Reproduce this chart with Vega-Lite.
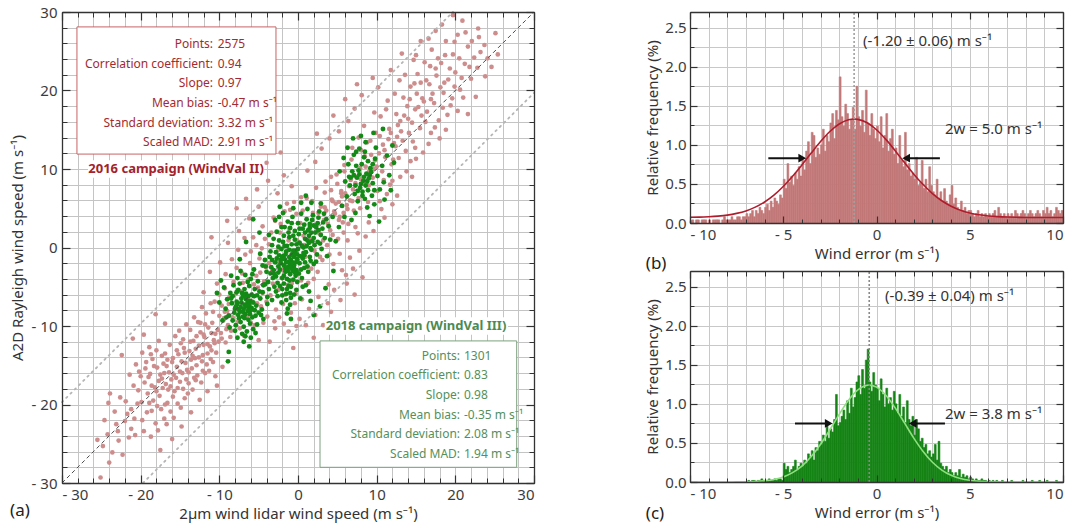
{
"$schema": "https://vega.github.io/schema/vega-lite/v6.json",
"background": "white",
"padding": {"left": 10, "top": 5, "right": 5, "bottom": 5},
"config": {
  "font": "Noto Sans",
  "view": {"stroke": null},
  "axis": {"labelFont": "Noto Sans", "labelFontSize": 15, "labelColor": "#3c3c3c", "titleFont": "Noto Sans", "titleFontSize": 15, "titleFontWeight": "normal", "titleColor": "#333333", "tickColor": "#333333", "domainColor": "#333333", "gridColor": "#c4c4c4", "gridWidth": 1},
  "title": {"font": "Noto Sans", "fontSize": 17, "fontWeight": "normal", "color": "#222222"}
},
"datasets": {
  "pink": [
{"x":-25.5,"y":-24.5},{"x":-24.8,"y":-25.3},{"x":-24.2,"y":-23.8},{"x":-23.6,"y":-26.1},{"x":-24.0,"y":-27.4},{"x":-25.1,"y":-29.3},{"x":-22.8,"y":-24.6},{"x":-23.1,"y":-22.5},{"x":-22.3,"y":-26.4},{"x":-21.7,"y":-21.2},{"x":-21.2,"y":-23.1},{"x":-21.9,"y":-19.6},{"x":-20.8,"y":-21.8},{"x":-22.6,"y":-19.1},{"x":-23.9,"y":-18.6},{"x":-21.5,"y":-24.2},{"x":-20.3,"y":-18.2},{"x":-19.6,"y":-23.4},{"x":-19.2,"y":-21.0},{"x":-18.7,"y":-24.1},{"x":-18.1,"y":-22.4},{"x":-17.5,"y":-25.8},{"x":-20.0,"y":-16.4},{"x":-22.4,"y":-13.7},{"x":-24.1,"y":-19.8},
{"x":-19.5,"y":-17.2},{"x":-19.1,"y":-18.6},{"x":-18.8,"y":-16.1},{"x":-18.4,"y":-19.5},{"x":-18.2,"y":-17.8},{"x":-17.9,"y":-15.3},{"x":-17.6,"y":-18.9},{"x":-17.3,"y":-16.7},{"x":-17.1,"y":-14.8},{"x":-16.8,"y":-17.4},{"x":-16.6,"y":-19.8},{"x":-16.4,"y":-15.9},{"x":-16.1,"y":-16.8},{"x":-15.9,"y":-14.1},{"x":-15.7,"y":-18.3},{"x":-15.4,"y":-15.2},{"x":-15.2,"y":-13.6},{"x":-15.0,"y":-17.1},{"x":-14.7,"y":-16.0},{"x":-14.5,"y":-12.8},{"x":-14.3,"y":-14.7},{"x":-14.0,"y":-18.6},{"x":-13.8,"y":-13.2},{"x":-13.5,"y":-15.4},{"x":-13.3,"y":-11.9},{"x":-13.1,"y":-14.1},{"x":-12.8,"y":-16.3},{"x":-12.6,"y":-12.5},{"x":-12.4,"y":-10.8},{"x":-12.1,"y":-13.7},{"x":-11.9,"y":-11.4},{"x":-11.6,"y":-14.9},{"x":-11.4,"y":-10.2},{"x":-11.2,"y":-12.6},{"x":-10.9,"y":-9.6},{"x":-10.7,"y":-11.8},{"x":-10.4,"y":-13.4},{"x":-10.2,"y":-10.5},{"x":-10.0,"y":-8.7},
{"x":-20.6,"y":-14.9},{"x":-20.2,"y":-15.8},{"x":-19.8,"y":-13.4},{"x":-19.3,"y":-14.6},{"x":-18.9,"y":-12.7},{"x":-18.5,"y":-14.2},{"x":-18.0,"y":-13.1},{"x":-17.7,"y":-11.9},{"x":-17.4,"y":-20.6},{"x":-17.0,"y":-21.8},{"x":-16.7,"y":-22.5},{"x":-16.2,"y":-20.9},{"x":-15.8,"y":-21.7},{"x":-15.3,"y":-19.9},{"x":-14.9,"y":-20.4},{"x":-14.4,"y":-19.2},{"x":-13.9,"y":-17.3},{"x":-13.4,"y":-18.1},{"x":-12.9,"y":-15.0},{"x":-12.3,"y":-17.2},{"x":-11.8,"y":-16.0},{"x":-11.3,"y":-15.7},{"x":-10.8,"y":-14.6},{"x":-10.5,"y":-16.4},
{"x":-16.9,"y":-13.5},{"x":-16.3,"y":-12.4},{"x":-15.6,"y":-11.3},{"x":-15.1,"y":-10.6},{"x":-14.6,"y":-11.7},{"x":-14.2,"y":-9.8},{"x":-13.7,"y":-10.5},{"x":-13.2,"y":-8.9},{"x":-12.7,"y":-9.5},{"x":-12.2,"y":-7.6},{"x":-11.7,"y":-8.4},{"x":-11.1,"y":-7.1},{"x":-10.6,"y":-6.9},{"x":-18.6,"y":-20.8},{"x":-19.9,"y":-19.7},{"x":-20.9,"y":-17.6},{"x":-21.4,"y":-16.2},{"x":-17.8,"y":-23.3},{"x":-16.0,"y":-24.4},{"x":-14.8,"y":-22.8},{"x":-13.6,"y":-21.0},{"x":-12.5,"y":-19.4},{"x":-11.5,"y":-18.3},{"x":-10.3,"y":-17.6},{"x":-9.6,"y":-15.2},{"x":-9.2,"y":-12.1},
{"x":-17.2,"y":-17.9},{"x":-16.5,"y":-18.1},{"x":-15.5,"y":-16.6},{"x":-15.0,"y":-15.8},{"x":-14.1,"y":-15.6},{"x":-13.0,"y":-12.9},{"x":-12.0,"y":-11.1},{"x":-11.0,"y":-10.9},{"x":-16.0,"y":-14.6},{"x":-17.5,"y":-16.2},{"x":-18.3,"y":-15.1},{"x":-14.4,"y":-13.4},{"x":-13.6,"y":-14.3},{"x":-12.2,"y":-14.5},{"x":-11.5,"y":-12.3},{"x":-10.6,"y":-12.2},{"x":-9.8,"y":-10.9},{"x":-9.5,"y":-9.3},{"x":-9.1,"y":-10.4},{"x":-8.8,"y":-8.6},{"x":-18.1,"y":-8.5},{"x":-19.6,"y":-11.1},{"x":-21.0,"y":-11.6},{"x":-16.9,"y":-9.7},
{"x":-19.0,"y":-16.5},{"x":-18.6,"y":-17.6},{"x":-18.0,"y":-18.3},{"x":-17.7,"y":-17.0},{"x":-17.0,"y":-16.0},{"x":-16.7,"y":-15.1},{"x":-16.2,"y":-17.7},{"x":-15.8,"y":-16.2},{"x":-15.3,"y":-17.9},{"x":-14.8,"y":-14.5},{"x":-14.2,"y":-16.8},{"x":-13.9,"y":-15.9},{"x":-13.4,"y":-13.8},{"x":-13.0,"y":-16.9},{"x":-12.6,"y":-14.0},{"x":-12.0,"y":-12.4},{"x":-11.5,"y":-13.5},{"x":-11.0,"y":-13.1},{"x":-10.5,"y":-11.0},{"x":-10.1,"y":-12.0},{"x":-9.7,"y":-11.6},{"x":-9.3,"y":-8.2},{"x":-8.9,"y":-9.9},{"x":-8.6,"y":-11.4},{"x":-19.4,"y":-15.4},{"x":-18.7,"y":-13.6},{"x":-17.3,"y":-13.8},{"x":-16.6,"y":-14.3},{"x":-15.4,"y":-13.1},{"x":-14.9,"y":-12.2},{"x":-13.7,"y":-12.0},{"x":-12.9,"y":-11.3},{"x":-12.4,"y":-9.6},{"x":-11.8,"y":-9.8},{"x":-20.4,"y":-19.9},{"x":-21.2,"y":-20.6},{"x":-22.0,"y":-22.1},{"x":-22.9,"y":-23.4},{"x":-20.7,"y":-23.9},{"x":-19.8,"y":-22.0},{"x":-18.9,"y":-19.8},{"x":-17.9,"y":-20.2},{"x":-16.9,"y":-20.0},{"x":-15.9,"y":-19.0},{"x":-14.6,"y":-18.0},{"x":-13.2,"y":-16.6},{"x":-12.1,"y":-15.7},{"x":-11.1,"y":-14.2},{"x":-23.3,"y":-20.9},{"x":-24.6,"y":-22.0},
{"x":-9.7,"y":-7.4},{"x":-9.3,"y":-5.2},{"x":-9.0,"y":-8.1},{"x":-8.7,"y":-6.3},{"x":-8.5,"y":-10.6},{"x":-8.2,"y":-4.4},{"x":-8.0,"y":-7.9},{"x":-7.8,"y":-2.6},{"x":-7.6,"y":-9.4},{"x":-7.3,"y":-5.6},{"x":-7.1,"y":-3.3},{"x":-6.9,"y":-11.2},{"x":-6.7,"y":-0.9},{"x":-6.5,"y":-8.7},{"x":-6.3,"y":-4.1},{"x":-6.1,"y":-2.0},{"x":-5.9,"y":-6.8},{"x":-5.7,"y":1.3},{"x":-5.5,"y":-9.9},{"x":-5.3,"y":-3.6},{"x":-5.1,"y":-5.1},{"x":-4.9,"y":-1.4},{"x":-4.7,"y":-7.5},{"x":-4.5,"y":2.7},{"x":-4.3,"y":-4.3},{"x":-4.1,"y":-2.5},{"x":-3.9,"y":-8.8},{"x":-3.7,"y":0.4},{"x":-3.5,"y":-6.1},{"x":-3.3,"y":-3.0},{"x":-3.1,"y":3.8},{"x":-2.9,"y":-10.3},{"x":-2.7,"y":-1.8},{"x":-2.5,"y":-5.4},{"x":-2.3,"y":1.9},{"x":-2.1,"y":-3.9},{"x":-1.9,"y":-7.2},{"x":-1.7,"y":4.6},{"x":-1.5,"y":-0.7},{"x":-1.3,"y":-4.8},{"x":-1.1,"y":2.4},{"x":-0.9,"y":-8.3},{"x":-0.7,"y":-2.2},{"x":-0.5,"y":5.8},{"x":-0.3,"y":-5.9},{"x":-0.1,"y":0.9},{"x":0.1,"y":-3.4},{"x":0.3,"y":3.1},{"x":0.5,"y":-6.6},{"x":0.7,"y":1.5},{"x":0.9,"y":-1.2},{"x":1.1,"y":6.3},{"x":1.3,"y":-4.5},{"x":1.5,"y":2.8},{"x":1.7,"y":-2.7},{"x":1.9,"y":4.4},{"x":2.1,"y":-0.4},{"x":2.3,"y":7.6},{"x":2.5,"y":-3.1},{"x":2.7,"y":1.8},{"x":2.9,"y":5.2},{"x":3.1,"y":-1.6},{"x":3.3,"y":3.5},{"x":3.5,"y":8.4},{"x":3.7,"y":0.3},{"x":3.9,"y":-4.7},{"x":4.1,"y":2.2},{"x":4.3,"y":6.1},{"x":4.5,"y":-2.1},{"x":4.7,"y":4.3},{"x":4.9,"y":9.3},{"x":5.1,"y":1.1},{"x":5.3,"y":-0.8},{"x":5.5,"y":6.9},{"x":5.7,"y":3.2},{"x":5.9,"y":10.5},{"x":6.1,"y":-3.5},{"x":6.3,"y":4.9},{"x":-10.3,"y":-4.6},{"x":-9.9,"y":-1.9},{"x":-11.2,"y":-3.1},{"x":-8.9,"y":0.6},{"x":-7.5,"y":2.1},{"x":-6.2,"y":3.7},{"x":-5.0,"y":5.2},{"x":-10.8,"y":-8.2},{"x":-12.0,"y":-5.7},
{"x":-4.4,"y":-9.6},{"x":-3.6,"y":-12.0},{"x":-2.4,"y":-8.9},{"x":-1.2,"y":-10.7},{"x":0.2,"y":-9.1},{"x":1.4,"y":-7.8},{"x":2.6,"y":-6.3},{"x":3.8,"y":-7.1},{"x":4.6,"y":-5.4},{"x":5.6,"y":-2.9},{"x":6.6,"y":-1.3},{"x":7.2,"y":-6.0},{"x":7.8,"y":-0.4},{"x":2.0,"y":-11.5},{"x":-0.6,"y":-12.8},{"x":5.0,"y":-9.4},
{"x":-9.4,"y":-9.0},{"x":-8.8,"y":-7.2},{"x":-8.3,"y":-8.9},{"x":-7.9,"y":-5.9},{"x":-7.4,"y":-10.3},{"x":-7.0,"y":-4.5},{"x":-6.4,"y":-6.4},{"x":-6.0,"y":-9.6},{"x":-5.6,"y":-4.7},{"x":-5.2,"y":-7.1},{"x":-4.8,"y":-3.2},{"x":-4.5,"y":-5.8},{"x":-4.0,"y":-6.9},{"x":-3.7,"y":-2.0},{"x":-3.2,"y":-4.6},{"x":-2.8,"y":-7.9},{"x":-2.5,"y":-0.3},{"x":-2.0,"y":-2.9},{"x":-1.6,"y":-6.0},{"x":-1.2,"y":0.9},{"x":-0.8,"y":-4.6},{"x":-0.4,"y":-7.1},{"x":0.0,"y":-1.8},{"x":0.4,"y":-4.2},{"x":0.8,"y":0.3},{"x":1.2,"y":-2.5},{"x":1.6,"y":1.0},{"x":2.0,"y":-4.0},{"x":2.4,"y":2.9},{"x":2.8,"y":-1.2},{"x":3.2,"y":0.9},{"x":3.6,"y":4.7},{"x":4.0,"y":-0.9},{"x":4.4,"y":1.6},{"x":4.8,"y":5.6},{"x":5.2,"y":3.5},{"x":5.8,"y":1.9},{"x":6.4,"y":3.0},{"x":6.9,"y":5.9},{"x":7.3,"y":2.6},{"x":-10.0,"y":-6.0},{"x":-9.2,"y":-3.4},{"x":-8.4,"y":-1.5},{"x":-7.6,"y":-0.3},{"x":-6.8,"y":1.2},{"x":-6.0,"y":-0.5},{"x":-5.3,"y":0.3},{"x":-4.6,"y":-0.1},{"x":-4.2,"y":1.1},{"x":-3.4,"y":1.9},{"x":-2.2,"y":3.0},{"x":-1.4,"y":5.6},{"x":-0.2,"y":4.3},{"x":0.6,"y":4.7},{"x":1.8,"y":5.9},{"x":2.6,"y":4.4},{"x":3.4,"y":7.0},{"x":4.2,"y":9.0},{"x":-3.0,"y":-9.4},{"x":-1.8,"y":-9.7},{"x":-0.2,"y":-10.0},{"x":1.0,"y":-9.9},{"x":2.2,"y":-8.6},{"x":3.2,"y":-9.9},{"x":4.2,"y":-8.2},{"x":5.4,"y":-6.7},{"x":6.2,"y":-4.6},{"x":7.0,"y":-2.7},{"x":8.2,"y":-3.8},{"x":-5.0,"y":-11.8},
{"x":-6.6,"y":6.2},{"x":-5.2,"y":7.4},{"x":-3.8,"y":8.5},{"x":-2.6,"y":6.9},{"x":-1.8,"y":9.2},{"x":-0.8,"y":7.8},{"x":-4.0,"y":10.8},{"x":-2.2,"y":12.1},{"x":-7.8,"y":5.0},{"x":-9.0,"y":3.4},{"x":-11.0,"y":1.3},
{"x":-2.9,"y":3.4},{"x":-1.0,"y":4.8},{"x":0.4,"y":6.4},{"x":1.2,"y":9.8},{"x":2.2,"y":10.9},{"x":3.0,"y":12.6},{"x":4.0,"y":13.9},{"x":5.2,"y":14.8},{"x":6.4,"y":16.1},{"x":7.2,"y":17.7},{"x":8.1,"y":19.4},{"x":6.0,"y":18.9},{"x":4.5,"y":16.8},{"x":2.4,"y":14.5},{"x":9.5,"y":21.6},{"x":7.5,"y":20.8},
{"x":3.4,"y":5.1},{"x":3.8,"y":3.0},{"x":4.2,"y":7.3},{"x":4.6,"y":4.6},{"x":5.0,"y":8.1},{"x":5.3,"y":3.9},{"x":5.6,"y":6.5},{"x":5.9,"y":9.7},{"x":6.2,"y":5.4},{"x":6.5,"y":7.8},{"x":6.8,"y":11.2},{"x":7.1,"y":4.7},{"x":7.4,"y":9.0},{"x":7.7,"y":6.3},{"x":8.0,"y":12.4},{"x":8.3,"y":8.1},{"x":8.6,"y":10.3},{"x":8.9,"y":5.8},{"x":9.2,"y":13.6},{"x":9.5,"y":8.9},{"x":9.8,"y":11.1},{"x":10.1,"y":7.2},{"x":10.4,"y":14.2},{"x":10.7,"y":9.7},{"x":11.0,"y":12.4},{"x":11.3,"y":6.8},{"x":11.6,"y":15.1},{"x":11.9,"y":10.6},{"x":12.2,"y":13.3},{"x":12.5,"y":17.0},{"x":12.8,"y":11.4},{"x":13.1,"y":14.8},{"x":13.4,"y":19.1},{"x":13.7,"y":12.3},{"x":14.0,"y":16.4},{"x":14.3,"y":20.5},{"x":14.6,"y":13.5},{"x":14.9,"y":17.6},{"x":15.2,"y":22.1},{"x":15.5,"y":15.2},{"x":15.8,"y":19.0},{"x":16.1,"y":23.6},{"x":16.4,"y":17.3},{"x":16.7,"y":20.8},{"x":17.0,"y":25.2},{"x":17.3,"y":18.4},{"x":17.6,"y":21.9},{"x":17.9,"y":16.2},{"x":18.2,"y":23.5},{"x":18.5,"y":19.7},{"x":18.8,"y":26.3},{"x":19.1,"y":21.4},{"x":19.4,"y":18.1},{"x":19.7,"y":24.6},{"x":20.0,"y":22.3},{"x":20.3,"y":27.1},{"x":20.6,"y":20.1},{"x":20.9,"y":28.9},{"x":21.2,"y":23.4},{"x":21.6,"y":25.6},{"x":22.0,"y":21.5},{"x":22.4,"y":24.2},{"x":22.8,"y":22.9},{"x":23.2,"y":24.9},{"x":23.7,"y":25.8},{"x":24.1,"y":24.1},{"x":19.7,"y":29.6},{"x":17.5,"y":27.6},{"x":15.6,"y":26.3},{"x":13.2,"y":24.7},{"x":11.8,"y":22.6},{"x":10.2,"y":20.4},{"x":12.0,"y":8.5},{"x":13.8,"y":9.7},{"x":15.0,"y":11.3},{"x":16.6,"y":13.2},{"x":18.0,"y":13.9},{"x":9.0,"y":3.2},{"x":10.6,"y":4.9},{"x":7.6,"y":1.8},{"x":6.3,"y":0.9},{"x":11.4,"y":18.7},{"x":9.7,"y":17.2},{"x":8.4,"y":15.5},{"x":12.9,"y":21.3},{"x":14.7,"y":23.9},{"x":16.2,"y":16.0},{"x":14.1,"y":14.6},{"x":12.4,"y":12.9},{"x":11.1,"y":11.5},{"x":10.0,"y":10.3},{"x":9.0,"y":9.6},{"x":8.0,"y":8.7},{"x":7.0,"y":7.4},{"x":6.0,"y":6.9},{"x":5.2,"y":5.8},{"x":13.0,"y":16.1},{"x":15.3,"y":17.9},{"x":17.1,"y":19.6},{"x":18.6,"y":21.0},{"x":19.9,"y":20.5},{"x":10.8,"y":13.1},{"x":9.3,"y":11.8},{"x":7.9,"y":10.1},{"x":6.7,"y":8.6},{"x":5.5,"y":7.2},{"x":4.4,"y":5.9},{"x":21.0,"y":19.1},{"x":19.0,"y":16.9},{"x":16.9,"y":14.6},{"x":14.9,"y":12.7},{"x":12.0,"y":5.5},{"x":8.6,"y":1.4},{"x":14.5,"y":9.0},
{"x":5.8,"y":4.4},{"x":6.6,"y":6.0},{"x":7.3,"y":8.2},{"x":7.9,"y":5.0},{"x":8.5,"y":11.6},{"x":9.0,"y":7.9},{"x":9.6,"y":10.0},{"x":10.3,"y":12.0},{"x":10.9,"y":8.6},{"x":11.5,"y":13.8},{"x":12.1,"y":11.2},{"x":12.7,"y":15.6},{"x":13.3,"y":13.6},{"x":13.9,"y":18.0},{"x":14.5,"y":15.9},{"x":15.1,"y":19.6},{"x":15.7,"y":16.8},{"x":16.3,"y":21.3},{"x":16.9,"y":18.9},{"x":17.5,"y":22.8},{"x":18.1,"y":20.4},{"x":18.7,"y":24.5},{"x":19.3,"y":22.8},{"x":19.9,"y":26.2},{"x":20.5,"y":24.1},{"x":21.3,"y":27.4},{"x":22.1,"y":26.3},{"x":22.9,"y":27.9},{"x":11.8,"y":14.6},{"x":12.6,"y":14.1},{"x":13.5,"y":16.8},{"x":14.2,"y":18.9},{"x":14.8,"y":20.9},{"x":15.6,"y":21.0},{"x":16.0,"y":18.6},{"x":16.8,"y":23.1},{"x":17.8,"y":24.1},{"x":18.4,"y":17.8},{"x":19.6,"y":19.0},{"x":20.8,"y":21.6},{"x":21.8,"y":23.0},{"x":10.5,"y":16.7},{"x":9.9,"y":14.6},{"x":11.2,"y":17.6},{"x":12.3,"y":19.6},{"x":8.8,"y":13.4},{"x":7.7,"y":14.0},{"x":6.9,"y":12.7},{"x":13.6,"y":22.0},{"x":15.0,"y":24.5},{"x":16.6,"y":26.6},{"x":18.3,"y":28.4},{"x":10.4,"y":5.9},{"x":11.7,"y":8.0},{"x":13.0,"y":9.0},{"x":14.3,"y":11.0},{"x":15.9,"y":12.1},{"x":17.4,"y":15.3},{"x":18.8,"y":15.0},{"x":20.3,"y":17.4},{"x":12.6,"y":6.6},{"x":9.6,"y":2.1},{"x":11.0,"y":3.8},{"x":22.6,"y":19.2},{"x":21.6,"y":17.0},{"x":23.8,"y":21.8},{"x":24.6,"y":23.0},{"x":25.4,"y":24.6},{"x":23.0,"y":26.8},{"x":25.1,"y":27.3}
  ],
  "green": [
{"x":-6.8,"y":-7.3},{"x":-7.2,"y":-6.5},{"x":-6.4,"y":-8.1},{"x":-7.5,"y":-7.9},{"x":-6.1,"y":-6.8},{"x":-7.0,"y":-8.8},{"x":-6.6,"y":-5.9},{"x":-7.8,"y":-6.9},{"x":-5.9,"y":-7.7},{"x":-7.3,"y":-9.5},{"x":-6.3,"y":-9.2},{"x":-8.1,"y":-8.3},{"x":-5.6,"y":-6.2},{"x":-7.6,"y":-5.4},{"x":-6.9,"y":-10.1},{"x":-5.8,"y":-8.9},{"x":-8.4,"y":-7.1},{"x":-6.2,"y":-4.9},{"x":-7.9,"y":-9.9},{"x":-5.3,"y":-7.4},{"x":-8.6,"y":-5.8},{"x":-6.5,"y":-10.7},{"x":-5.5,"y":-5.3},{"x":-7.4,"y":-4.6},{"x":-8.8,"y":-8.7},{"x":-5.0,"y":-8.3},{"x":-7.1,"y":-11.0},{"x":-6.0,"y":-4.0},{"x":-8.2,"y":-4.8},{"x":-4.8,"y":-6.5},{"x":-9.0,"y":-6.6},{"x":-6.7,"y":-3.5},{"x":-5.2,"y":-9.8},{"x":-8.0,"y":-10.6},{"x":-4.6,"y":-7.9},{"x":-7.7,"y":-3.9},{"x":-9.2,"y":-7.8},{"x":-5.7,"y":-10.4},{"x":-6.9,"y":-6.2},{"x":-7.3,"y":-7.6},{"x":-6.4,"y":-7.0},{"x":-7.0,"y":-8.2},{"x":-6.1,"y":-8.5},{"x":-7.6,"y":-8.6},{"x":-6.6,"y":-6.6},{"x":-5.9,"y":-6.0},{"x":-7.9,"y":-7.5},{"x":-6.3,"y":-7.6},{"x":-7.1,"y":-5.8},{"x":-6.8,"y":-9.0},{"x":-5.4,"y":-8.7},{"x":-8.3,"y":-6.2},{"x":-4.9,"y":-5.6},{"x":-6.0,"y":-11.5},{"x":-8.7,"y":-10.2},{"x":-9.4,"y":-5.1},{"x":-4.4,"y":-9.1},{"x":-5.1,"y":-4.3},{"x":-8.5,"y":-3.6},{"x":-9.6,"y":-9.3},{"x":-8.8,"y":-13.3},{"x":-8.9,"y":-14.5},{"x":-6.9,"y":-12.0},{"x":-10.0,"y":-7.0},{"x":-4.2,"y":-4.7},{"x":-3.9,"y":-7.2},{"x":-9.8,"y":-4.2},{"x":-10.3,"y":-5.8},
{"x":-6.9,"y":-7.8},{"x":-6.5,"y":-7.5},{"x":-7.2,"y":-7.0},{"x":-6.2,"y":-7.3},{"x":-7.7,"y":-7.2},{"x":-6.7,"y":-8.5},{"x":-7.4,"y":-8.2},{"x":-6.0,"y":-8.0},{"x":-7.0,"y":-6.0},{"x":-6.3,"y":-6.2},{"x":-5.7,"y":-7.0},{"x":-8.0,"y":-7.8},{"x":-6.8,"y":-5.3},{"x":-7.5,"y":-9.0},{"x":-6.1,"y":-9.7},{"x":-5.5,"y":-8.0},{"x":-8.3,"y":-9.3},{"x":-7.8,"y":-5.7},{"x":-5.2,"y":-6.1},{"x":-6.4,"y":-4.4},{"x":-7.3,"y":-3.0},{"x":-5.8,"y":-3.4},{"x":-6.7,"y":-11.3},{"x":-8.5,"y":-6.5},{"x":-5.4,"y":-10.9},{"x":-9.1,"y":-8.9},{"x":-4.7,"y":-8.6},{"x":-7.7,"y":-11.5},{"x":-6.2,"y":-12.6},{"x":-4.5,"y":-5.7},
{"x":-1.2,"y":-1.8},{"x":-0.8,"y":-0.9},{"x":-1.6,"y":-2.7},{"x":-0.5,"y":-2.3},{"x":-1.9,"y":-1.1},{"x":-1.0,"y":-3.4},{"x":-0.3,"y":-0.4},{"x":-2.2,"y":-2.0},{"x":-1.4,"y":0.2},{"x":-0.6,"y":-4.1},{"x":-2.5,"y":-3.2},{"x":-0.1,"y":-1.5},{"x":-1.8,"y":-4.6},{"x":-2.8,"y":-0.6},{"x":0.2,"y":0.6},{"x":-1.1,"y":1.3},{"x":-2.0,"y":-5.3},{"x":0.4,"y":-2.8},{"x":-2.9,"y":-1.9},{"x":-0.4,"y":2.1},{"x":-1.5,"y":-5.9},{"x":0.7,"y":-0.7},{"x":-3.2,"y":-3.9},{"x":-0.9,"y":-6.4},{"x":0.1,"y":1.7},{"x":-2.4,"y":0.9},{"x":0.9,"y":-1.9},{"x":-3.0,"y":-5.0},{"x":-1.7,"y":2.6},{"x":0.5,"y":-3.9},{"x":-3.4,"y":-2.5},{"x":-0.2,"y":-5.4},{"x":1.1,"y":0.2},{"x":-2.6,"y":-6.2},{"x":-1.3,"y":3.3},{"x":-3.6,"y":-1.2},{"x":1.3,"y":-3.1},{"x":-0.7,"y":3.9},{"x":-2.1,"y":-7.0},{"x":0.8,"y":2.9},{"x":-3.8,"y":-4.4},{"x":-1.0,"y":-7.3},{"x":1.5,"y":-1.2},{"x":-2.7,"y":2.0},{"x":0.3,"y":-6.5},{"x":-3.3,"y":0.3},{"x":1.0,"y":-4.8},{"x":-1.9,"y":4.4},{"x":-0.5,"y":-1.2},{"x":-1.3,"y":-2.5},{"x":-0.9,"y":-1.6},{"x":-1.7,"y":-1.5},{"x":-0.2,"y":-2.9},{"x":-1.5,"y":-0.5},{"x":-0.7,"y":-3.0},{"x":-2.3,"y":-2.8},{"x":-1.1,"y":-0.3},{"x":-1.8,"y":-3.6},{"x":-0.4,"y":-0.8},{"x":-2.0,"y":-1.3},{"x":-0.6,"y":-2.1},{"x":-1.4,"y":-4.0},{"x":-1.0,"y":-2.2},{"x":-1.6,"y":-3.1},{"x":-0.3,"y":-3.6},{"x":-2.1,"y":-0.2},{"x":-0.8,"y":0.4},{"x":-2.6,"y":-4.5},{"x":0.0,"y":-0.2},{"x":-1.2,"y":-4.9},{"x":0.6,"y":-1.4},{"x":-2.4,"y":-1.0},{"x":-0.1,"y":-4.4},{"x":-1.9,"y":0.7},{"x":-3.1,"y":-2.9},{"x":0.2,"y":-2.0},{"x":-1.0,"y":2.5},{"x":-2.8,"y":-3.7},{"x":-0.4,"y":1.0},{"x":-1.5,"y":-6.7},{"x":-3.5,"y":-0.5},{"x":1.2,"y":-2.4},{"x":-4.0,"y":-3.1},{"x":-0.6,"y":5.0},{"x":1.7,"y":-0.3},{"x":-2.3,"y":5.2},{"x":-4.2,"y":-1.6},{"x":1.4,"y":-5.6},{"x":-3.9,"y":-6.3},{"x":0.4,"y":4.3},{"x":-4.4,"y":-4.8},{"x":-1.4,"y":-8.4},{"x":0.0,"y":3.1},{"x":-2.9,"y":3.5},{"x":2.0,"y":-2.1},{"x":-3.7,"y":1.6},{"x":-0.9,"y":-9.1},
{"x":-1.1,"y":-1.2},{"x":-0.7,"y":-1.9},{"x":-1.5,"y":-1.9},{"x":-1.3,"y":-3.0},{"x":-0.5,"y":-2.7},{"x":-1.8,"y":-2.3},{"x":-0.9,"y":-2.6},{"x":-0.3,"y":-1.9},{"x":-2.2,"y":-1.6},{"x":-1.6,"y":-0.9},{"x":-0.6,"y":-0.4},{"x":-1.1,"y":-4.2},{"x":-2.0,"y":-3.9},{"x":-0.4,"y":-3.2},{"x":-2.5,"y":-2.4},{"x":-0.1,"y":-0.9},{"x":-1.4,"y":-5.3},{"x":-2.7,"y":-1.4},{"x":0.3,"y":-1.1},{"x":-0.9,"y":-5.0},{"x":-2.3,"y":-4.9},{"x":0.1,"y":-3.3},{"x":-1.7,"y":0.2},{"x":-0.2,"y":0.4},{"x":-2.5,"y":0.1},{"x":-1.2,"y":1.9},{"x":0.5,"y":0.2},{"x":-3.0,"y":-3.4},{"x":-0.6,"y":1.5},{"x":-1.8,"y":1.5},{"x":0.8,"y":-2.6},{"x":-2.0,"y":-6.1},{"x":-3.3,"y":-1.6},{"x":0.2,"y":2.4},{"x":-1.0,"y":-5.8},{"x":-2.8,"y":-5.6},{"x":-3.5,"y":-3.3},{"x":1.0,"y":-0.6},{"x":-0.8,"y":3.1},{"x":-2.1,"y":2.6},{"x":0.6,"y":-5.0},{"x":-0.5,"y":-6.0},{"x":1.4,"y":0.6},{"x":-3.1,"y":1.1},{"x":-1.3,"y":-7.8},{"x":-2.4,"y":3.9},{"x":0.9,"y":1.9},{"x":-3.7,"y":-5.3},{"x":1.6,"y":-1.7},{"x":-4.1,"y":-2.4},
{"x":0.9,"y":1.1},{"x":1.3,"y":2.2},{"x":1.8,"y":0.8},{"x":1.1,"y":3.6},{"x":2.2,"y":1.9},{"x":1.6,"y":-0.1},{"x":2.5,"y":3.1},{"x":0.7,"y":0.0},{"x":2.8,"y":0.5},{"x":1.9,"y":4.1},{"x":2.4,"y":-0.9},{"x":3.1,"y":2.4},{"x":1.4,"y":1.5},{"x":2.0,"y":2.8},{"x":0.6,"y":2.4},{"x":2.7,"y":4.6},{"x":3.4,"y":1.2},{"x":1.2,"y":4.9},{"x":3.6,"y":3.6},{"x":2.3,"y":-1.8},{"x":3.0,"y":-0.2},{"x":1.7,"y":5.7},{"x":3.9,"y":2.7},{"x":0.8,"y":-1.0},{"x":2.1,"y":0.3},{"x":2.6,"y":2.2},{"x":1.5,"y":3.0},{"x":3.3,"y":4.3},{"x":4.1,"y":1.0},{"x":2.9,"y":5.6},{"x":0.4,"y":5.7},{"x":4.4,"y":3.9},{"x":1.0,"y":6.6},{"x":3.7,"y":-1.1},{"x":2.8,"y":-7.5},{"x":3.5,"y":-5.2},{"x":2.0,"y":-8.6},{"x":4.5,"y":-3.0},{"x":1.6,"y":-6.8},{"x":4.8,"y":0.8},{"x":5.2,"y":2.6},{"x":-5.7,"y":3.6},{"x":-6.6,"y":0.7},{"x":-4.9,"y":1.9},{"x":-7.4,"y":-1.5},{"x":-4.5,"y":-2.3},{"x":-3.3,"y":-6.7},{"x":-5.6,"y":-2.8},{"x":-4.8,"y":-0.8},
{"x":1.2,"y":0.9},{"x":1.7,"y":1.9},{"x":2.3,"y":2.6},{"x":2.0,"y":1.2},{"x":2.9,"y":1.6},{"x":1.5,"y":2.5},{"x":2.5,"y":0.7},{"x":3.2,"y":3.2},{"x":1.8,"y":3.5},{"x":2.6,"y":3.8},
{"x":8.3,"y":8.5},{"x":7.9,"y":7.6},{"x":8.7,"y":9.4},{"x":7.5,"y":8.9},{"x":8.9,"y":7.3},{"x":7.2,"y":6.8},{"x":9.2,"y":10.1},{"x":8.1,"y":10.6},{"x":7.6,"y":5.9},{"x":9.5,"y":8.2},{"x":6.9,"y":9.7},{"x":8.5,"y":6.2},{"x":9.8,"y":11.3},{"x":7.1,"y":11.8},{"x":8.8,"y":5.1},{"x":6.6,"y":7.9},{"x":10.1,"y":9.1},{"x":7.8,"y":12.6},{"x":9.4,"y":6.6},{"x":6.4,"y":10.6},{"x":10.4,"y":7.4},{"x":8.6,"y":13.4},{"x":6.2,"y":6.5},{"x":9.9,"y":12.7},{"x":7.3,"y":4.4},{"x":10.7,"y":10.4},{"x":6.0,"y":8.4},{"x":9.1,"y":4.0},{"x":8.0,"y":14.2},{"x":10.9,"y":8.3},{"x":5.8,"y":11.4},{"x":9.6,"y":14.6},{"x":6.8,"y":3.5},{"x":11.3,"y":11.7},{"x":5.6,"y":5.3},{"x":11.0,"y":6.1},{"x":7.0,"y":13.9},{"x":10.3,"y":3.3},{"x":8.4,"y":11.5},{"x":7.7,"y":9.8},{"x":9.0,"y":8.8},{"x":8.2,"y":7.1},{"x":7.4,"y":10.4},{"x":9.3,"y":9.6},{"x":8.6,"y":7.9},{"x":6.7,"y":8.9},{"x":11.6,"y":9.2},{"x":12.2,"y":10.8},{"x":5.3,"y":9.7},{"x":6.3,"y":12.7},{"x":10.8,"y":15.1},{"x":9.7,"y":5.5},{"x":12.0,"y":13.0},{"x":5.9,"y":3.9},{"x":11.8,"y":7.3},
{"x":8.0,"y":8.1},{"x":8.4,"y":9.0},{"x":7.6,"y":7.2},{"x":8.8,"y":8.4},{"x":7.8,"y":9.3},{"x":9.1,"y":9.2},{"x":8.2,"y":6.6},{"x":7.3,"y":7.9},{"x":9.5,"y":10.6},{"x":8.9,"y":11.0},{"x":7.1,"y":9.2},{"x":9.7,"y":7.3},{"x":6.5,"y":9.0},{"x":8.5,"y":12.2},{"x":7.4,"y":12.2}
  ],
  "histB": [
{"b":-10,"e":-9.9,"f":0.03},{"b":-9.9,"e":-9.8,"f":0.04},{"b":-9.7,"e":-9.6,"f":0.04},{"b":-9.6,"e":-9.5,"f":0.04},{"b":-9.4,"e":-9.3,"f":0.04},{"b":-9.3,"e":-9.2,"f":0.04},{"b":-9.2,"e":-9.1,"f":0.04},
{"b":-9,"e":-8.9,"f":0.04},{"b":-8.8,"e":-8.7,"f":0.04},{"b":-8.7,"e":-8.6,"f":0.04},{"b":-8.6,"e":-8.5,"f":0.04},{"b":-8.5,"e":-8.4,"f":0.04},{"b":-8.3,"e":-8.2,"f":0.04},{"b":-8.2,"e":-8.1,"f":0.08},{"b":-8.1,"e":-8.0,"f":0.04},
{"b":-8,"e":-7.9,"f":0.04},{"b":-7.9,"e":-7.8,"f":0.04},{"b":-7.8,"e":-7.7,"f":0.08},{"b":-7.7,"e":-7.6,"f":0.04},{"b":-7.6,"e":-7.5,"f":0.04},{"b":-7.5,"e":-7.4,"f":0.08},{"b":-7.4,"e":-7.3,"f":0.08},{"b":-7.3,"e":-7.2,"f":0.04},{"b":-7.2,"e":-7.1,"f":0.08},{"b":-7.1,"e":-7.0,"f":0.08},
{"b":-7,"e":-6.9,"f":0.12},{"b":-6.9,"e":-6.8,"f":0.08},{"b":-6.8,"e":-6.7,"f":0.12},{"b":-6.7,"e":-6.6,"f":0.16},{"b":-6.6,"e":-6.5,"f":0.08},{"b":-6.5,"e":-6.4,"f":0.16},{"b":-6.4,"e":-6.3,"f":0.12},{"b":-6.3,"e":-6.2,"f":0.20},{"b":-6.2,"e":-6.1,"f":0.16},{"b":-6.1,"e":-6.0,"f":0.12},
{"b":-6,"e":-5.9,"f":0.20},{"b":-5.9,"e":-5.8,"f":0.24},{"b":-5.8,"e":-5.7,"f":0.16},{"b":-5.7,"e":-5.6,"f":0.28},{"b":-5.6,"e":-5.5,"f":0.20},{"b":-5.5,"e":-5.4,"f":0.32},{"b":-5.4,"e":-5.3,"f":0.28},{"b":-5.3,"e":-5.2,"f":0.24},{"b":-5.2,"e":-5.1,"f":0.36},{"b":-5.1,"e":-5.0,"f":0.32},
{"b":-5,"e":-4.9,"f":0.56},{"b":-4.9,"e":-4.8,"f":0.44},{"b":-4.8,"e":-4.7,"f":0.76},{"b":-4.7,"e":-4.6,"f":0.52},{"b":-4.6,"e":-4.5,"f":0.60},{"b":-4.5,"e":-4.4,"f":0.48},{"b":-4.4,"e":-4.3,"f":0.64},{"b":-4.3,"e":-4.2,"f":0.56},{"b":-4.2,"e":-4.1,"f":0.72},{"b":-4.1,"e":-4.0,"f":0.60},
{"b":-4,"e":-3.9,"f":0.80},{"b":-3.9,"e":-3.8,"f":0.68},{"b":-3.8,"e":-3.7,"f":0.92},{"b":-3.7,"e":-3.6,"f":1.04},{"b":-3.6,"e":-3.5,"f":0.76},{"b":-3.5,"e":-3.4,"f":1.16},{"b":-3.4,"e":-3.3,"f":1.12},{"b":-3.3,"e":-3.2,"f":0.84},{"b":-3.2,"e":-3.1,"f":0.96},{"b":-3.1,"e":-3.0,"f":0.88},
{"b":-3,"e":-2.9,"f":1.00},{"b":-2.9,"e":-2.8,"f":1.20},{"b":-2.8,"e":-2.7,"f":0.92},{"b":-2.7,"e":-2.6,"f":1.12},{"b":-2.6,"e":-2.5,"f":1.04},{"b":-2.5,"e":-2.4,"f":1.28},{"b":-2.4,"e":-2.3,"f":1.40},{"b":-2.3,"e":-2.2,"f":1.08},{"b":-2.2,"e":-2.1,"f":1.44},{"b":-2.1,"e":-2.0,"f":1.32},
{"b":-2,"e":-1.9,"f":1.87},{"b":-1.9,"e":-1.8,"f":1.36},{"b":-1.8,"e":-1.7,"f":1.24},{"b":-1.7,"e":-1.6,"f":1.52},{"b":-1.6,"e":-1.5,"f":1.40},{"b":-1.5,"e":-1.4,"f":1.20},{"b":-1.4,"e":-1.3,"f":1.32},{"b":-1.3,"e":-1.2,"f":1.48},{"b":-1.2,"e":-1.1,"f":1.20},{"b":-1.1,"e":-1.0,"f":1.75},
{"b":-1,"e":-0.9,"f":1.36},{"b":-0.9,"e":-0.8,"f":1.24},{"b":-0.8,"e":-0.7,"f":1.44},{"b":-0.7,"e":-0.6,"f":1.16},{"b":-0.6,"e":-0.5,"f":1.70},{"b":-0.5,"e":-0.4,"f":1.28},{"b":-0.4,"e":-0.3,"f":1.12},{"b":-0.3,"e":-0.2,"f":1.40},{"b":-0.2,"e":-0.1,"f":1.20},{"b":-0.1,"e":0.0,"f":1.08},
{"b":0,"e":0.1,"f":1.24},{"b":0.1,"e":0.2,"f":1.04},{"b":0.2,"e":0.3,"f":1.36},{"b":0.3,"e":0.4,"f":0.96},{"b":0.4,"e":0.5,"f":1.12},{"b":0.5,"e":0.6,"f":1.40},{"b":0.6,"e":0.7,"f":0.92},{"b":0.7,"e":0.8,"f":1.08},{"b":0.8,"e":0.9,"f":1.20},{"b":0.9,"e":1.0,"f":0.88},
{"b":1,"e":1.1,"f":0.96},{"b":1.1,"e":1.2,"f":0.76},{"b":1.2,"e":1.3,"f":1.12},{"b":1.3,"e":1.4,"f":0.80},{"b":1.4,"e":1.5,"f":0.72},{"b":1.5,"e":1.6,"f":1.16},{"b":1.6,"e":1.7,"f":0.68},{"b":1.7,"e":1.8,"f":0.76},{"b":1.8,"e":1.9,"f":0.60},{"b":1.9,"e":2.0,"f":0.64},
{"b":2,"e":2.1,"f":0.56},{"b":2.1,"e":2.2,"f":0.84},{"b":2.2,"e":2.3,"f":0.48},{"b":2.3,"e":2.4,"f":0.52},{"b":2.4,"e":2.5,"f":0.80},{"b":2.5,"e":2.6,"f":0.44},{"b":2.6,"e":2.7,"f":0.56},{"b":2.7,"e":2.8,"f":0.40},{"b":2.8,"e":2.9,"f":0.72},{"b":2.9,"e":3.0,"f":0.48},
{"b":3,"e":3.1,"f":0.40},{"b":3.1,"e":3.2,"f":0.36},{"b":3.2,"e":3.3,"f":0.56},{"b":3.3,"e":3.4,"f":0.32},{"b":3.4,"e":3.5,"f":0.40},{"b":3.5,"e":3.6,"f":0.28},{"b":3.6,"e":3.7,"f":0.44},{"b":3.7,"e":3.8,"f":0.28},{"b":3.8,"e":3.9,"f":0.24},{"b":3.9,"e":4.0,"f":0.36},
{"b":4,"e":4.1,"f":0.48},{"b":4.1,"e":4.2,"f":0.24},{"b":4.2,"e":4.3,"f":0.32},{"b":4.3,"e":4.4,"f":0.20},{"b":4.4,"e":4.5,"f":0.16},{"b":4.5,"e":4.6,"f":0.28},{"b":4.6,"e":4.7,"f":0.16},{"b":4.7,"e":4.8,"f":0.20},{"b":4.8,"e":4.9,"f":0.12},{"b":4.9,"e":5.0,"f":0.16},
{"b":5,"e":5.1,"f":0.16},{"b":5.1,"e":5.2,"f":0.12},{"b":5.2,"e":5.3,"f":0.08},{"b":5.3,"e":5.4,"f":0.12},{"b":5.4,"e":5.5,"f":0.16},{"b":5.5,"e":5.6,"f":0.08},{"b":5.6,"e":5.7,"f":0.12},{"b":5.7,"e":5.8,"f":0.08},{"b":5.8,"e":5.9,"f":0.12},{"b":5.9,"e":6.0,"f":0.08},
{"b":6,"e":6.1,"f":0.12},{"b":6.1,"e":6.2,"f":0.08},{"b":6.2,"e":6.3,"f":0.12},{"b":6.3,"e":6.4,"f":0.16},{"b":6.4,"e":6.5,"f":0.08},{"b":6.5,"e":6.6,"f":0.20},{"b":6.6,"e":6.7,"f":0.12},{"b":6.7,"e":6.8,"f":0.08},{"b":6.8,"e":6.9,"f":0.12},{"b":6.9,"e":7.0,"f":0.08},
{"b":7,"e":7.1,"f":0.12},{"b":7.1,"e":7.2,"f":0.08},{"b":7.2,"e":7.3,"f":0.12},{"b":7.3,"e":7.4,"f":0.08},{"b":7.4,"e":7.5,"f":0.16},{"b":7.5,"e":7.6,"f":0.12},{"b":7.6,"e":7.7,"f":0.08},{"b":7.7,"e":7.8,"f":0.12},{"b":7.8,"e":7.9,"f":0.16},{"b":7.9,"e":8.0,"f":0.12},
{"b":8,"e":8.1,"f":0.08},{"b":8.1,"e":8.2,"f":0.12},{"b":8.2,"e":8.3,"f":0.16},{"b":8.3,"e":8.4,"f":0.12},{"b":8.4,"e":8.5,"f":0.08},{"b":8.5,"e":8.6,"f":0.12},{"b":8.6,"e":8.7,"f":0.16},{"b":8.7,"e":8.8,"f":0.12},{"b":8.8,"e":8.9,"f":0.08},{"b":8.9,"e":9.0,"f":0.16},
{"b":9,"e":9.1,"f":0.12},{"b":9.1,"e":9.2,"f":0.20},{"b":9.2,"e":9.3,"f":0.12},{"b":9.3,"e":9.4,"f":0.16},{"b":9.4,"e":9.5,"f":0.08},{"b":9.5,"e":9.6,"f":0.12},{"b":9.6,"e":9.7,"f":0.20},{"b":9.7,"e":9.8,"f":0.16},{"b":9.8,"e":9.9,"f":0.12},{"b":9.9,"e":10.0,"f":0.16}
  ],
  "histC": [
{"b":-6.9,"e":-6.8,"f":0.02},{"b":-6.7,"e":-6.6,"f":0.02},{"b":-6.6,"e":-6.5,"f":0.02},{"b":-6.4,"e":-6.3,"f":0.02},{"b":-6.3,"e":-6.2,"f":0.02},{"b":-6.2,"e":-6.1,"f":0.04},{"b":-6.1,"e":-6.0,"f":0.02},
{"b":-6,"e":-5.9,"f":0.02},{"b":-5.9,"e":-5.8,"f":0.02},{"b":-5.8,"e":-5.7,"f":0.04},{"b":-5.7,"e":-5.6,"f":0.02},{"b":-5.6,"e":-5.5,"f":0.02},{"b":-5.5,"e":-5.4,"f":0.04},{"b":-5.4,"e":-5.3,"f":0.02},{"b":-5.3,"e":-5.2,"f":0.04},{"b":-5.2,"e":-5.1,"f":0.04},{"b":-5.1,"e":-5.0,"f":0.02},
{"b":-5,"e":-4.9,"f":0.24},{"b":-4.9,"e":-4.8,"f":0.16},{"b":-4.8,"e":-4.7,"f":0.20},{"b":-4.7,"e":-4.6,"f":0.12},{"b":-4.6,"e":-4.5,"f":0.16},{"b":-4.5,"e":-4.4,"f":0.20},{"b":-4.4,"e":-4.3,"f":0.28},{"b":-4.3,"e":-4.2,"f":0.16},{"b":-4.2,"e":-4.1,"f":0.20},{"b":-4.1,"e":-4.0,"f":0.24},
{"b":-4,"e":-3.9,"f":0.20},{"b":-3.9,"e":-3.8,"f":0.28},{"b":-3.8,"e":-3.7,"f":0.24},{"b":-3.7,"e":-3.6,"f":0.36},{"b":-3.6,"e":-3.5,"f":0.32},{"b":-3.5,"e":-3.4,"f":0.40},{"b":-3.4,"e":-3.3,"f":0.28},{"b":-3.3,"e":-3.2,"f":0.44},{"b":-3.2,"e":-3.1,"f":0.40},{"b":-3.1,"e":-3.0,"f":0.52},
{"b":-3,"e":-2.9,"f":0.48},{"b":-2.9,"e":-2.8,"f":0.60},{"b":-2.8,"e":-2.7,"f":0.52},{"b":-2.7,"e":-2.6,"f":0.72},{"b":-2.6,"e":-2.5,"f":0.56},{"b":-2.5,"e":-2.4,"f":0.68},{"b":-2.4,"e":-2.3,"f":0.64},{"b":-2.3,"e":-2.2,"f":0.80},{"b":-2.2,"e":-2.1,"f":1.12},{"b":-2.1,"e":-2.0,"f":0.72},
{"b":-2,"e":-1.9,"f":0.76},{"b":-1.9,"e":-1.8,"f":0.84},{"b":-1.8,"e":-1.7,"f":0.92},{"b":-1.7,"e":-1.6,"f":0.80},{"b":-1.6,"e":-1.5,"f":1.04},{"b":-1.5,"e":-1.4,"f":0.88},{"b":-1.4,"e":-1.3,"f":1.20},{"b":-1.3,"e":-1.2,"f":0.96},{"b":-1.2,"e":-1.1,"f":1.08},{"b":-1.1,"e":-1.0,"f":1.28},
{"b":-1,"e":-0.9,"f":1.36},{"b":-0.9,"e":-0.8,"f":1.12},{"b":-0.8,"e":-0.7,"f":1.44},{"b":-0.7,"e":-0.6,"f":1.20},{"b":-0.6,"e":-0.5,"f":1.56},{"b":-0.5,"e":-0.4,"f":1.70},{"b":-0.4,"e":-0.3,"f":1.28},{"b":-0.3,"e":-0.2,"f":1.16},{"b":-0.2,"e":-0.1,"f":1.40},{"b":-0.1,"e":0.0,"f":1.24},
{"b":0,"e":0.1,"f":1.20},{"b":0.1,"e":0.2,"f":1.04},{"b":0.2,"e":0.3,"f":1.32},{"b":0.3,"e":0.4,"f":1.12},{"b":0.4,"e":0.5,"f":0.96},{"b":0.5,"e":0.6,"f":1.20},{"b":0.6,"e":0.7,"f":1.00},{"b":0.7,"e":0.8,"f":1.08},{"b":0.8,"e":0.9,"f":0.92},{"b":0.9,"e":1.0,"f":1.16},
{"b":1,"e":1.1,"f":1.00},{"b":1.1,"e":1.2,"f":0.88},{"b":1.2,"e":1.3,"f":1.12},{"b":1.3,"e":1.4,"f":0.84},{"b":1.4,"e":1.5,"f":0.96},{"b":1.5,"e":1.6,"f":0.76},{"b":1.6,"e":1.7,"f":1.04},{"b":1.7,"e":1.8,"f":0.80},{"b":1.8,"e":1.9,"f":0.72},{"b":1.9,"e":2.0,"f":0.84},
{"b":2,"e":2.1,"f":0.60},{"b":2.1,"e":2.2,"f":0.80},{"b":2.2,"e":2.3,"f":0.68},{"b":2.3,"e":2.4,"f":0.52},{"b":2.4,"e":2.5,"f":0.56},{"b":2.5,"e":2.6,"f":0.44},{"b":2.6,"e":2.7,"f":0.48},{"b":2.7,"e":2.8,"f":0.36},{"b":2.8,"e":2.9,"f":0.40},{"b":2.9,"e":3.0,"f":0.32},
{"b":3,"e":3.1,"f":0.36},{"b":3.1,"e":3.2,"f":0.48},{"b":3.2,"e":3.3,"f":0.28},{"b":3.3,"e":3.4,"f":0.52},{"b":3.4,"e":3.5,"f":0.24},{"b":3.5,"e":3.6,"f":0.20},{"b":3.6,"e":3.7,"f":0.16},{"b":3.7,"e":3.8,"f":0.20},{"b":3.8,"e":3.9,"f":0.12},{"b":3.9,"e":4.0,"f":0.16},
{"b":4,"e":4.1,"f":0.12},{"b":4.1,"e":4.2,"f":0.08},{"b":4.2,"e":4.3,"f":0.12},{"b":4.3,"e":4.4,"f":0.08},{"b":4.4,"e":4.5,"f":0.16},{"b":4.5,"e":4.6,"f":0.06},{"b":4.6,"e":4.7,"f":0.10},{"b":4.7,"e":4.8,"f":0.06},{"b":4.8,"e":4.9,"f":0.08},{"b":4.9,"e":5.0,"f":0.04},
{"b":5,"e":5.1,"f":0.06},{"b":5.1,"e":5.2,"f":0.04},{"b":5.2,"e":5.3,"f":0.02},{"b":5.3,"e":5.4,"f":0.04},{"b":5.4,"e":5.5,"f":0.02},{"b":5.5,"e":5.6,"f":0.02},{"b":5.6,"e":5.7,"f":0.04},{"b":5.7,"e":5.8,"f":0.02},{"b":5.8,"e":5.9,"f":0.02},
{"b":6,"e":6.1,"f":0.02},{"b":6.2,"e":6.3,"f":0.02},{"b":6.4,"e":6.5,"f":0.02},{"b":6.7,"e":6.8,"f":0.02},{"b":7.2,"e":7.3,"f":0.02},{"b":7.8,"e":7.9,"f":0.02},{"b":8.3,"e":8.4,"f":0.02},{"b":8.7,"e":8.8,"f":0.02},{"b":9.1,"e":9.2,"f":0.02},{"b":9.6,"e":9.7,"f":0.02}
  ],
  "curveB": [
{"x":-10,"y":0.073},{"x":-9.5,"y":0.075},{"x":-9,"y":0.080},{"x":-8.5,"y":0.088},{"x":-8,"y":0.101},{"x":-7.5,"y":0.123},{"x":-7,"y":0.155},{"x":-6.5,"y":0.203},{"x":-6,"y":0.269},{"x":-5.5,"y":0.357},{"x":-5,"y":0.467},{"x":-4.5,"y":0.597},{"x":-4,"y":0.743},{"x":-3.5,"y":0.895},{"x":-3,"y":1.042},{"x":-2.5,"y":1.171},{"x":-2,"y":1.267},{"x":-1.5,"y":1.321},{"x":-1.2,"y":1.33},{"x":-1,"y":1.326},{"x":-0.5,"y":1.282},{"x":0,"y":1.193},{"x":0.5,"y":1.070},{"x":1,"y":0.926},{"x":1.5,"y":0.773},{"x":2,"y":0.625},{"x":2.5,"y":0.492},{"x":3,"y":0.377},{"x":3.5,"y":0.285},{"x":4,"y":0.215},{"x":4.5,"y":0.164},{"x":5,"y":0.128},{"x":5.5,"y":0.105},{"x":6,"y":0.090},{"x":6.5,"y":0.081},{"x":7,"y":0.076},{"x":7.5,"y":0.073},{"x":8,"y":0.071},{"x":8.5,"y":0.071},{"x":9,"y":0.070},{"x":9.5,"y":0.070},{"x":10,"y":0.070}
  ],
  "curveC": [
{"x":-10,"y":0},{"x":-9,"y":0},{"x":-8,"y":0.0004},{"x":-7.5,"y":0.001},{"x":-7,"y":0.003},{"x":-6.5,"y":0.007},{"x":-6,"y":0.016},{"x":-5.5,"y":0.033},{"x":-5,"y":0.065},{"x":-4.5,"y":0.120},{"x":-4,"y":0.204},{"x":-3.5,"y":0.325},{"x":-3,"y":0.483},{"x":-2.5,"y":0.669},{"x":-2,"y":0.866},{"x":-1.5,"y":1.046},{"x":-1,"y":1.178},{"x":-0.5,"y":1.238},{"x":-0.39,"y":1.24},{"x":0,"y":1.214},{"x":0.5,"y":1.111},{"x":1,"y":0.949},{"x":1.5,"y":0.756},{"x":2,"y":0.562},{"x":2.5,"y":0.390},{"x":3,"y":0.252},{"x":3.5,"y":0.153},{"x":4,"y":0.086},{"x":4.5,"y":0.045},{"x":5,"y":0.022},{"x":5.5,"y":0.010},{"x":6,"y":0.004},{"x":6.5,"y":0.001},{"x":7,"y":0},{"x":8,"y":0},{"x":9,"y":0},{"x":10,"y":0}
  ]
},
"bounds": "flush",
"spacing": 156,
"hconcat": [
{
  "width": 472, "height": 471,
  "title": {"text": "(a)", "orient": "bottom", "anchor": "start", "frame": "bounds", "offset": -18},
  "resolve": {"axis": {"x": "independent", "y": "independent"}},
  "layer": [
    {"data": {"name": "pink"}, "mark": {"type": "circle", "size": 22, "color": "#cd8d8d", "opacity": 1},
     "encoding": {
       "x": {"field": "x", "type": "quantitative", "scale": {"domain": [-30, 30], "nice": false, "zero": false},
             "axis": {"orient": "bottom", "values": [-30,-28,-26,-24,-22,-20,-18,-16,-14,-12,-10,-8,-6,-4,-2,0,2,4,6,8,10,12,14,16,18,20,22,24,26,28,30], "labelExpr": "datum.value % 10 === 0 ? (datum.value < 0 ? '- ' + (-datum.value) : '' + datum.value) : ''", "labelOverlap": false, "ticks": false, "domain": false, "grid": true, "labelPadding": 4, "title": "2µm wind lidar wind speed (m s⁻¹)", "titlePadding": 4, "zindex": 0}},
       "y": {"field": "y", "type": "quantitative", "scale": {"domain": [-30, 30], "nice": false, "zero": false},
             "axis": {"orient": "left", "values": [-30,-28,-26,-24,-22,-20,-18,-16,-14,-12,-10,-8,-6,-4,-2,0,2,4,6,8,10,12,14,16,18,20,22,24,26,28,30], "labelExpr": "datum.value % 10 === 0 ? (datum.value < 0 ? '- ' + (-datum.value) : '' + datum.value) : ''", "labelOverlap": false, "ticks": false, "domain": false, "grid": true, "labelPadding": 5, "title": "A2D Rayleigh wind speed (m s⁻¹)", "titlePadding": 6, "zindex": 0}}
     }},
    {"data": {"name": "green"}, "mark": {"type": "circle", "size": 24, "color": "#138a16", "opacity": 1},
     "encoding": {
       "x": {"field": "x", "type": "quantitative", "scale": {"domain": [-30, 30], "nice": false, "zero": false},
             "axis": {"orient": "bottom", "values": [-30,-20,-10,0,10,20,30], "labels": false, "tickSize": -8, "tickWidth": 1.2, "domain": true, "domainWidth": 1.3, "grid": false, "title": null, "zindex": 2}},
       "y": {"field": "y", "type": "quantitative", "scale": {"domain": [-30, 30], "nice": false, "zero": false},
             "axis": {"orient": "left", "values": [-30,-20,-10,0,10,20,30], "labels": false, "tickSize": -8, "tickWidth": 1.2, "domain": true, "domainWidth": 1.3, "grid": false, "title": null, "zindex": 2}}
     }},
    {"data": {"values": [{}]}, "mark": {"type": "rule", "color": "#b5b5b5", "strokeWidth": 1.8, "strokeDash": [1.5, 4.5], "strokeCap": "round"},
     "encoding": {
       "x": {"datum": -30, "type": "quantitative", "scale": {"domain": [-30, 30], "nice": false, "zero": false},
             "axis": {"orient": "bottom", "values": [-30,-28,-26,-24,-22,-20,-18,-16,-14,-12,-10,-8,-6,-4,-2,0,2,4,6,8,10,12,14,16,18,20,22,24,26,28,30], "labels": false, "tickSize": -5, "domain": false, "grid": false, "title": null, "zindex": 2}},
       "y": {"datum": -19.7, "type": "quantitative", "scale": {"domain": [-30, 30], "nice": false, "zero": false},
             "axis": {"orient": "left", "values": [-30,-28,-26,-24,-22,-20,-18,-16,-14,-12,-10,-8,-6,-4,-2,0,2,4,6,8,10,12,14,16,18,20,22,24,26,28,30], "labels": false, "tickSize": -5, "domain": false, "grid": false, "title": null, "zindex": 2}},
       "x2": {"datum": 19.7}, "y2": {"datum": 30}
     }},
    {"data": {"values": [{}]}, "mark": {"type": "rule", "color": "#b5b5b5", "strokeWidth": 1.8, "strokeDash": [1.5, 4.5], "strokeCap": "round"},
     "encoding": {
       "x": {"datum": -19.7, "type": "quantitative", "scale": {"domain": [-30, 30], "nice": false, "zero": false},
             "axis": {"orient": "top", "values": [-30,-20,-10,0,10,20,30], "labels": false, "tickSize": -8, "tickWidth": 1.2, "domain": true, "domainWidth": 1.3, "grid": false, "title": null, "zindex": 2}},
       "y": {"datum": -30, "type": "quantitative", "scale": {"domain": [-30, 30], "nice": false, "zero": false},
             "axis": {"orient": "right", "values": [-30,-20,-10,0,10,20,30], "labels": false, "tickSize": -8, "tickWidth": 1.2, "domain": true, "domainWidth": 1.3, "grid": false, "title": null, "zindex": 2}},
       "x2": {"datum": 30}, "y2": {"datum": 19.7}
     }},
    {"data": {"values": [{}]}, "mark": {"type": "rule", "color": "#4a4a4a", "strokeWidth": 1, "strokeDash": [4, 3]},
     "encoding": {
       "x": {"datum": -30, "type": "quantitative", "scale": {"domain": [-30, 30], "nice": false, "zero": false},
             "axis": {"orient": "top", "values": [-30,-28,-26,-24,-22,-20,-18,-16,-14,-12,-10,-8,-6,-4,-2,0,2,4,6,8,10,12,14,16,18,20,22,24,26,28,30], "labels": false, "tickSize": -5, "domain": false, "grid": false, "title": null, "zindex": 2}},
       "y": {"datum": -30, "type": "quantitative", "scale": {"domain": [-30, 30], "nice": false, "zero": false},
             "axis": {"orient": "right", "values": [-30,-28,-26,-24,-22,-20,-18,-16,-14,-12,-10,-8,-6,-4,-2,0,2,4,6,8,10,12,14,16,18,20,22,24,26,28,30], "labels": false, "tickSize": -5, "domain": false, "grid": false, "title": null, "zindex": 2}},
       "x2": {"datum": 30}, "y2": {"datum": 30}
     }},
    {"data": {"values": [{}]}, "mark": {"type": "rect", "fill": "white", "stroke": "#c96262", "strokeWidth": 1},
     "encoding": {"x": {"datum": -28.1, "type": "quantitative", "axis": null}, "x2": {"datum": -2.8}, "y": {"datum": 28.1, "type": "quantitative", "axis": null}, "y2": {"datum": 11.9}}},
    {"data": {"values": [{}]}, "mark": {"type": "rect", "fill": "white"},
     "encoding": {"x": {"datum": -26.7, "type": "quantitative", "axis": null}, "x2": {"datum": -4.3}, "y": {"datum": 8.9, "type": "quantitative", "axis": null}, "y2": {"datum": 11.1}}},
    {"data": {"values": [{}]}, "mark": {"type": "text", "align": "right", "baseline": "middle", "lineHeight": 19.6, "fontSize": 12, "color": "#a32a30", "font": "Noto Sans"},
     "encoding": {"x": {"datum": -10.8, "type": "quantitative", "axis": null}, "y": {"datum": 25.9, "type": "quantitative", "axis": null},
       "text": {"value": ["Points:", "Correlation coefficient:", "Slope:", "Mean bias:", "Standard deviation:", "Scaled MAD:"]}}},
    {"data": {"values": [{}]}, "mark": {"type": "text", "align": "left", "baseline": "middle", "lineHeight": 19.6, "fontSize": 12, "color": "#a32a30", "font": "Noto Sans"},
     "encoding": {"x": {"datum": -10.2, "type": "quantitative", "axis": null}, "y": {"datum": 25.9, "type": "quantitative", "axis": null},
       "text": {"value": ["2575", "0.94", "0.97", "-0.47 m s⁻¹", "3.32 m s⁻¹", "2.91 m s⁻¹"]}}},
    {"data": {"values": [{}]}, "mark": {"type": "text", "align": "center", "baseline": "middle", "fontSize": 13, "fontWeight": "bold", "color": "#a3222b", "font": "Noto Sans"},
     "encoding": {"x": {"datum": -15.5, "type": "quantitative", "axis": null}, "y": {"datum": 10.0, "type": "quantitative", "axis": null},
       "text": {"value": "2016 campaign (WindVal II)"}}},
    {"data": {"values": [{}]}, "mark": {"type": "rect", "fill": "white", "stroke": "#7ea07e", "strokeWidth": 1},
     "encoding": {"x": {"datum": 2.8, "type": "quantitative", "axis": null}, "x2": {"datum": 27.8}, "y": {"datum": -11.9, "type": "quantitative", "axis": null}, "y2": {"datum": -28.0}}},
    {"data": {"values": [{}]}, "mark": {"type": "rect", "fill": "white"},
     "encoding": {"x": {"datum": 3.4, "type": "quantitative", "axis": null}, "x2": {"datum": 26.7}, "y": {"datum": -11.1, "type": "quantitative", "axis": null}, "y2": {"datum": -8.9}}},
    {"data": {"values": [{}]}, "mark": {"type": "text", "align": "right", "baseline": "middle", "lineHeight": 19.6, "fontSize": 12, "color": "#55905a", "font": "Noto Sans"},
     "encoding": {"x": {"datum": 20.6, "type": "quantitative", "axis": null}, "y": {"datum": -13.8, "type": "quantitative", "axis": null},
       "text": {"value": ["Points:", "Correlation coefficient:", "Slope:", "Mean bias:", "Standard deviation:", "Scaled MAD:"]}}},
    {"data": {"values": [{}]}, "mark": {"type": "text", "align": "left", "baseline": "middle", "lineHeight": 19.6, "fontSize": 12, "color": "#55905a", "font": "Noto Sans"},
     "encoding": {"x": {"datum": 21.1, "type": "quantitative", "axis": null}, "y": {"datum": -13.8, "type": "quantitative", "axis": null},
       "text": {"value": ["1301", "0.83", "0.98", "-0.35 m s⁻¹", "2.08 m s⁻¹", "1.94 m s⁻¹"]}}},
    {"data": {"values": [{}]}, "mark": {"type": "text", "align": "center", "baseline": "middle", "fontSize": 13, "fontWeight": "bold", "color": "#4d8a50", "font": "Noto Sans"},
     "encoding": {"x": {"datum": 15.0, "type": "quantitative", "axis": null}, "y": {"datum": -10.0, "type": "quantitative", "axis": null},
       "text": {"value": "2018 campaign (WindVal III)"}}}
  ]
},
{
  "bounds": "flush",
  "spacing": 48,
  "vconcat": [
  {
    "width": 373, "height": 211,
    "title": {"text": "(b)", "orient": "bottom", "anchor": "start", "frame": "bounds", "offset": -5},
    "resolve": {"axis": {"x": "independent", "y": "independent"}},
    "layer": [
      {"data": {"name": "histB"}, "mark": {"type": "rect", "color": "#c27878", "stroke": "#c27878", "strokeWidth": 0.6},
       "encoding": {
         "x": {"field": "b", "type": "quantitative", "scale": {"domain": [-10, 10], "nice": false, "zero": false},
               "axis": {"orient": "bottom", "values": [-10,-9,-8,-7,-6,-5,-4,-3,-2,-1,0,1,2,3,4,5,6,7,8,9,10], "labelExpr": "datum.value % 5 === 0 ? (datum.value < 0 ? '- ' + (-datum.value) : '' + datum.value) : ''", "labelOverlap": false, "ticks": false, "domain": false, "grid": true, "gridColor": "#c8c8c8", "labelPadding": 4, "title": "Wind error (m s⁻¹)", "titlePadding": 4, "zindex": 0}},
         "x2": {"field": "e"},
         "y": {"field": "f", "type": "quantitative", "scale": {"domain": [0, 2.7], "nice": false, "zero": true},
               "axis": {"orient": "left", "values": [0,0.25,0.5,0.75,1,1.25,1.5,1.75,2,2.25,2.5], "labelExpr": "(datum.value * 4) % 2 === 0 ? format(datum.value, '.1f') : ''", "labelOverlap": false, "ticks": false, "domain": false, "grid": true, "gridColor": "#c8c8c8", "labelPadding": 4, "title": "Relative frequency (%)", "titlePadding": 4, "zindex": 0}},
         "y2": {"datum": 0}
       }},
      {"data": {"name": "curveB"}, "mark": {"type": "line", "color": "#b01c2c", "strokeWidth": 1.6, "interpolate": "monotone"},
       "encoding": {
         "x": {"field": "x", "type": "quantitative", "scale": {"domain": [-10, 10], "nice": false, "zero": false},
               "axis": {"orient": "bottom", "values": [-10,-5,0,5,10], "labels": false, "tickSize": -7, "tickWidth": 1.2, "domain": true, "domainWidth": 1.3, "grid": false, "title": null, "zindex": 2}},
         "y": {"field": "y", "type": "quantitative", "scale": {"domain": [0, 2.7], "nice": false, "zero": true},
               "axis": {"orient": "left", "values": [0,0.5,1,1.5,2,2.5], "labels": false, "tickSize": -7, "tickWidth": 1.2, "domain": true, "domainWidth": 1.3, "grid": false, "title": null, "zindex": 2}}
       }},
      {"data": {"values": [{}]}, "mark": {"type": "rule", "color": "#a0a0a0", "strokeWidth": 1.6, "strokeDash": [2, 2]},
       "encoding": {
         "x": {"datum": -1.2, "type": "quantitative", "scale": {"domain": [-10, 10], "nice": false, "zero": false},
               "axis": {"orient": "bottom", "values": [-10,-9,-8,-7,-6,-5,-4,-3,-2,-1,0,1,2,3,4,5,6,7,8,9,10], "labels": false, "tickSize": -4, "domain": false, "grid": false, "title": null, "zindex": 2}},
         "y": {"datum": 0, "type": "quantitative", "scale": {"domain": [0, 2.7], "nice": false, "zero": true},
               "axis": {"orient": "left", "values": [0,0.25,0.5,0.75,1,1.25,1.5,1.75,2,2.25,2.5], "labels": false, "tickSize": -4, "domain": false, "grid": false, "title": null, "zindex": 2}},
         "y2": {"datum": 2.7}
       }},
      {"data": {"values": [{}]}, "mark": {"type": "rule", "color": "#111111", "strokeWidth": 2},
       "encoding": {
         "x": {"datum": -5.8, "type": "quantitative", "scale": {"domain": [-10, 10], "nice": false, "zero": false},
               "axis": {"orient": "top", "values": [-10,-5,0,5,10], "labels": false, "tickSize": -7, "tickWidth": 1.2, "domain": true, "domainWidth": 1.3, "grid": false, "title": null, "zindex": 2}},
         "x2": {"datum": -3.95},
         "y": {"datum": 0.83, "type": "quantitative", "scale": {"domain": [0, 2.7], "nice": false, "zero": true},
               "axis": {"orient": "right", "values": [0,0.5,1,1.5,2,2.5], "labels": false, "tickSize": -7, "tickWidth": 1.2, "domain": true, "domainWidth": 1.3, "grid": false, "title": null, "zindex": 2}}
       }},
      {"data": {"values": [{}]}, "mark": {"type": "rule", "color": "#111111", "strokeWidth": 2},
       "encoding": {
         "x": {"datum": 3.4, "type": "quantitative", "scale": {"domain": [-10, 10], "nice": false, "zero": false},
               "axis": {"orient": "top", "values": [-10,-9,-8,-7,-6,-5,-4,-3,-2,-1,0,1,2,3,4,5,6,7,8,9,10], "labels": false, "tickSize": -5, "domain": false, "grid": false, "title": null, "zindex": 2}},
         "x2": {"datum": 1.55},
         "y": {"datum": 0.83, "type": "quantitative", "scale": {"domain": [0, 2.7], "nice": false, "zero": true},
               "axis": {"orient": "right", "values": [0,0.25,0.5,0.75,1,1.25,1.5,1.75,2,2.25,2.5], "labels": false, "tickSize": -4, "domain": false, "grid": false, "title": null, "zindex": 2}}
       }},
      {"data": {"values": [{}]}, "mark": {"type": "point", "shape": "triangle-right", "size": 80, "filled": true, "color": "#111111", "opacity": 1},
       "encoding": {"x": {"datum": -3.98, "type": "quantitative", "axis": null}, "y": {"datum": 0.83, "type": "quantitative", "axis": null}}},
      {"data": {"values": [{}]}, "mark": {"type": "point", "shape": "triangle-left", "size": 80, "filled": true, "color": "#111111", "opacity": 1},
       "encoding": {"x": {"datum": 1.59, "type": "quantitative", "axis": null}, "y": {"datum": 0.83, "type": "quantitative", "axis": null}}},
      {"data": {"values": [{}]}, "mark": {"type": "text", "align": "left", "baseline": "middle", "fontSize": 15, "color": "#333333", "font": "Noto Sans"},
       "encoding": {"x": {"datum": -0.72, "type": "quantitative", "axis": null}, "y": {"datum": 2.33, "type": "quantitative", "axis": null}, "text": {"value": "(-1.20 ± 0.06) m s⁻¹"}}},
      {"data": {"values": [{}]}, "mark": {"type": "text", "align": "left", "baseline": "middle", "fontSize": 15, "color": "#333333", "font": "Noto Sans"},
       "encoding": {"x": {"datum": 3.67, "type": "quantitative", "axis": null}, "y": {"datum": 1.2, "type": "quantitative", "axis": null}, "text": {"value": "2w = 5.0 m s⁻¹"}}}
    ]
  },
  {
    "width": 373, "height": 211,
    "title": {"text": "(c)", "orient": "bottom", "anchor": "start", "frame": "bounds", "offset": -14},
    "resolve": {"axis": {"x": "independent", "y": "independent"}},
    "layer": [
      {"data": {"name": "histC"}, "mark": {"type": "rect", "color": "#158415", "stroke": "#158415", "strokeWidth": 0.6},
       "encoding": {
         "x": {"field": "b", "type": "quantitative", "scale": {"domain": [-10, 10], "nice": false, "zero": false},
               "axis": {"orient": "bottom", "values": [-10,-9,-8,-7,-6,-5,-4,-3,-2,-1,0,1,2,3,4,5,6,7,8,9,10], "labelExpr": "datum.value % 5 === 0 ? (datum.value < 0 ? '- ' + (-datum.value) : '' + datum.value) : ''", "labelOverlap": false, "ticks": false, "domain": false, "grid": true, "gridColor": "#c8c8c8", "labelPadding": 4, "title": "Wind error (m s⁻¹)", "titlePadding": 4, "zindex": 0}},
         "x2": {"field": "e"},
         "y": {"field": "f", "type": "quantitative", "scale": {"domain": [0, 2.7], "nice": false, "zero": true},
               "axis": {"orient": "left", "values": [0,0.25,0.5,0.75,1,1.25,1.5,1.75,2,2.25,2.5], "labelExpr": "(datum.value * 4) % 2 === 0 ? format(datum.value, '.1f') : ''", "labelOverlap": false, "ticks": false, "domain": false, "grid": true, "gridColor": "#c8c8c8", "labelPadding": 4, "title": "Relative frequency (%)", "titlePadding": 4, "zindex": 0}},
         "y2": {"datum": 0}
       }},
      {"data": {"name": "curveC"}, "mark": {"type": "line", "color": "#8ee07e", "strokeWidth": 1.6, "interpolate": "monotone"},
       "encoding": {
         "x": {"field": "x", "type": "quantitative", "scale": {"domain": [-10, 10], "nice": false, "zero": false},
               "axis": {"orient": "bottom", "values": [-10,-5,0,5,10], "labels": false, "tickSize": -7, "tickWidth": 1.2, "domain": true, "domainWidth": 1.3, "grid": false, "title": null, "zindex": 2}},
         "y": {"field": "y", "type": "quantitative", "scale": {"domain": [0, 2.7], "nice": false, "zero": true},
               "axis": {"orient": "left", "values": [0,0.5,1,1.5,2,2.5], "labels": false, "tickSize": -7, "tickWidth": 1.2, "domain": true, "domainWidth": 1.3, "grid": false, "title": null, "zindex": 2}}
       }},
      {"data": {"values": [{}]}, "mark": {"type": "rule", "color": "#8a8a8a", "strokeWidth": 1.6, "strokeDash": [2, 2]},
       "encoding": {
         "x": {"datum": -0.39, "type": "quantitative", "scale": {"domain": [-10, 10], "nice": false, "zero": false},
               "axis": {"orient": "bottom", "values": [-10,-9,-8,-7,-6,-5,-4,-3,-2,-1,0,1,2,3,4,5,6,7,8,9,10], "labels": false, "tickSize": -4, "domain": false, "grid": false, "title": null, "zindex": 2}},
         "y": {"datum": 0, "type": "quantitative", "scale": {"domain": [0, 2.7], "nice": false, "zero": true},
               "axis": {"orient": "left", "values": [0,0.25,0.5,0.75,1,1.25,1.5,1.75,2,2.25,2.5], "labels": false, "tickSize": -4, "domain": false, "grid": false, "title": null, "zindex": 2}},
         "y2": {"datum": 2.7}
       }},
      {"data": {"values": [{}]}, "mark": {"type": "rule", "color": "#111111", "strokeWidth": 2},
       "encoding": {
         "x": {"datum": -4.37, "type": "quantitative", "scale": {"domain": [-10, 10], "nice": false, "zero": false},
               "axis": {"orient": "top", "values": [-10,-5,0,5,10], "labels": false, "tickSize": -7, "tickWidth": 1.2, "domain": true, "domainWidth": 1.3, "grid": false, "title": null, "zindex": 2}},
         "x2": {"datum": -2.5},
         "y": {"datum": 0.75, "type": "quantitative", "scale": {"domain": [0, 2.7], "nice": false, "zero": true},
               "axis": {"orient": "right", "values": [0,0.5,1,1.5,2,2.5], "labels": false, "tickSize": -7, "tickWidth": 1.2, "domain": true, "domainWidth": 1.3, "grid": false, "title": null, "zindex": 2}}
       }},
      {"data": {"values": [{}]}, "mark": {"type": "rule", "color": "#111111", "strokeWidth": 2},
       "encoding": {
         "x": {"datum": 3.67, "type": "quantitative", "scale": {"domain": [-10, 10], "nice": false, "zero": false},
               "axis": {"orient": "top", "values": [-10,-9,-8,-7,-6,-5,-4,-3,-2,-1,0,1,2,3,4,5,6,7,8,9,10], "labels": false, "tickSize": -5, "domain": false, "grid": false, "title": null, "zindex": 2}},
         "x2": {"datum": 1.9},
         "y": {"datum": 0.75, "type": "quantitative", "scale": {"domain": [0, 2.7], "nice": false, "zero": true},
               "axis": {"orient": "right", "values": [0,0.25,0.5,0.75,1,1.25,1.5,1.75,2,2.25,2.5], "labels": false, "tickSize": -4, "domain": false, "grid": false, "title": null, "zindex": 2}}
       }},
      {"data": {"values": [{}]}, "mark": {"type": "point", "shape": "triangle-right", "size": 80, "filled": true, "color": "#111111", "opacity": 1},
       "encoding": {"x": {"datum": -2.56, "type": "quantitative", "axis": null}, "y": {"datum": 0.75, "type": "quantitative", "axis": null}}},
      {"data": {"values": [{}]}, "mark": {"type": "point", "shape": "triangle-left", "size": 80, "filled": true, "color": "#111111", "opacity": 1},
       "encoding": {"x": {"datum": 1.94, "type": "quantitative", "axis": null}, "y": {"datum": 0.75, "type": "quantitative", "axis": null}}},
      {"data": {"values": [{}]}, "mark": {"type": "text", "align": "left", "baseline": "middle", "fontSize": 15, "color": "#333333", "font": "Noto Sans"},
       "encoding": {"x": {"datum": 0.46, "type": "quantitative", "axis": null}, "y": {"datum": 2.38, "type": "quantitative", "axis": null}, "text": {"value": "(-0.39 ± 0.04) m s⁻¹"}}},
      {"data": {"values": [{}]}, "mark": {"type": "text", "align": "left", "baseline": "middle", "fontSize": 15, "color": "#333333", "font": "Noto Sans"},
       "encoding": {"x": {"datum": 3.67, "type": "quantitative", "axis": null}, "y": {"datum": 0.87, "type": "quantitative", "axis": null}, "text": {"value": "2w = 3.8 m s⁻¹"}}}
    ]
  }
  ]
}
]
}
